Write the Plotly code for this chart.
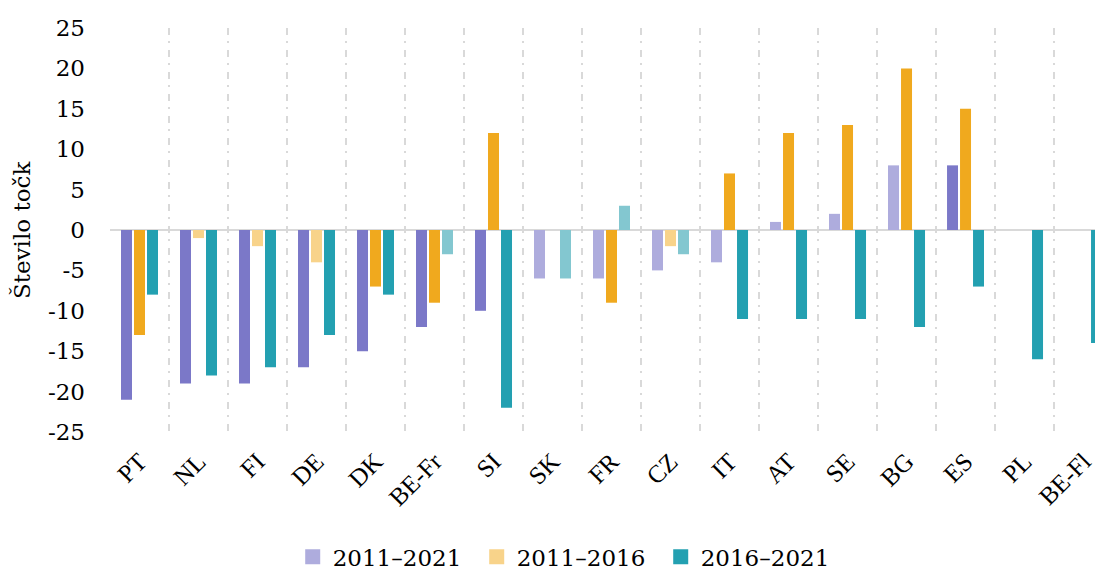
import plotly.graph_objects as go

categories = ["PT", "NL", "FI", "DE", "DK", "BE-Fr", "SI", "SK", "FR", "CZ",
              "IT", "AT", "SE", "BG", "ES", "PL", "BE-Fl"]

series_names = ["2011–2021", "2011–2016", "2016–2021"]

v_2011_2021 = [-21, -19, -19, -17, -15, -12, -10, -6, -6, -5, -4, 1, 2, 8, 8, None, None]
v_2011_2016 = [-13, -1, -2, -4, -7, -9, 12, None, -9, -2, 7, 12, 13, 20, 15, None, None]
v_2016_2021 = [-8, -18, -17, -13, -8, -3, -22, -6, 3, -3, -11, -11, -11, -12, -7, -16, -14]

# statistically significant change (dark) vs not significant (light)
sig_2011_2021 = [1, 1, 1, 1, 1, 1, 1, 0, 0, 0, 0, 0, 0, 0, 1, 0, 0]
sig_2011_2016 = [1, 0, 0, 0, 1, 1, 1, 0, 1, 0, 1, 1, 1, 1, 1, 0, 0]
sig_2016_2021 = [1, 1, 1, 1, 1, 0, 1, 0, 0, 0, 1, 1, 1, 1, 1, 1, 1]

y_tickvals = [25, 20, 15, 10, 5, 0, -5, -10, -15, -20, -25]
y_ticktext = ["25", "20", "15", "10", "5", "0", "-5", "-10", "-15", "-20", "-25"]

dark = ["#7b78c8", "#f0a91e", "#23a0b1"]
light = ["#aeacdd", "#f8d38a", "#83c7d0"]
legend_colors = [light[0], light[1], dark[2]]

values = [v_2011_2021, v_2011_2016, v_2016_2021]
sigs = [sig_2011_2021, sig_2011_2016, sig_2016_2021]

SERIF = "DejaVu Serif"
TIMES = "Liberation Serif"

fig = go.Figure()
for i in range(3):
    colors = [dark[i] if s else light[i] for s in sigs[i]]
    fig.add_trace(go.Bar(
        x=categories, y=values[i], name=series_names[i],
        marker=dict(color=colors, line=dict(width=0)),
        showlegend=False,
    ))
for i in range(3):
    fig.add_trace(go.Scatter(
        x=[None], y=[None], mode="markers", name=series_names[i],
        marker=dict(symbol="square", size=15, color=legend_colors[i]),
        showlegend=True,
    ))

fig.update_layout(
    width=1103, height=571,
    margin=dict(l=102, r=8, t=20, b=147, autoexpand=False),
    paper_bgcolor="white", plot_bgcolor="white",
    barmode="group", bargap=0.339, bargroupgap=0.154,
    font=dict(family=SERIF, size=22, color="black"),
    legend=dict(orientation="h", x=0.184, xanchor="left", y=-0.309, yanchor="middle",
                font=dict(family=SERIF, size=23), entrywidth=139, itemwidth=30,
                traceorder="normal"),
    annotations=[dict(text="Število točk", textangle=-90, x=-0.0886, xref="paper",
                      y=0.5, yref="paper", xanchor="center", yanchor="middle",
                      showarrow=False, font=dict(family=SERIF, size=23))],
)
fig.update_xaxes(
    type="category", range=[-0.5, 16.33], tickson="boundaries", automargin=False,
    showgrid=True, gridcolor="#d9d9d9", gridwidth=1.5, griddash="7px,6px,2px,7px",
    tickangle=-45, tickfont=dict(family=TIMES, size=25),
    ticks="", ticklabelstandoff=9, showline=False, zeroline=False,
)
fig.update_yaxes(
    range=[-25, 25], tickvals=y_tickvals, ticktext=y_ticktext, automargin=False,
    showgrid=False, zeroline=True, zerolinecolor="#d9d9d9", zerolinewidth=2,
    ticks="", ticklabelstandoff=24, showline=False,
    tickfont=dict(family=SERIF, size=23),
)

fig.write_html("out.html")
